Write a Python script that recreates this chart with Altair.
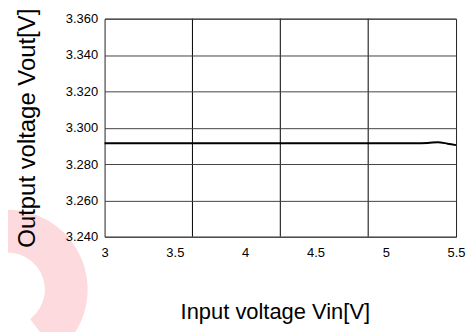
import altair as alt
import pandas as pd

# ---- data ----
vin = [3.0, 3.5, 4.0, 4.5, 5.0, 5.2, 5.3, 5.37, 5.44, 5.5]
vout = [3.2915, 3.2915, 3.2915, 3.2915, 3.2915, 3.2915, 3.2916, 3.2920, 3.2912, 3.2904]
x_ticks = [3.0, 3.5, 4.0, 4.5, 5.0, 5.5]
y_ticks = [3.240, 3.260, 3.280, 3.300, 3.320, 3.340, 3.360]
x_grid = [3.625, 4.25, 4.875]

W, H = 353, 219
FONT = "Liberation Sans"

df = pd.DataFrame({"vin": vin, "vout": vout})
grid_df = pd.DataFrame({"g": x_grid})

xscale = alt.Scale(domain=[3, 5.5], nice=False, zero=False)
yscale = alt.Scale(domain=[3.24, 3.36], nice=False, zero=False)

x_axis = alt.Axis(values=x_ticks, format="~g", grid=False, ticks=False, domain=False,
                  labelFontSize=13, labelPadding=10, labelFlush=False,
                  title="Input voltage Vin[V]", titleFontSize=22, titleFontWeight="normal",
                  titleX=171, titleY=82, titleBaseline="alphabetic", zindex=1)
y_axis = alt.Axis(values=y_ticks, format=".3f", grid=True, gridColor="#444", gridWidth=1,
                  ticks=False, domain=False, labelFontSize=13, labelPadding=7,
                  title="Output voltage Vout[V]", titleFontSize=24, titleFontWeight="normal",
                  titleX=-70, titleBaseline="alphabetic", zindex=1)

# decorative watermark (pale pink ring segment in the lower-left corner)
wm = alt.Chart(pd.DataFrame({"a": [0]})).mark_arc(color="#fcdadd").encode(
    x=alt.value(-97), y=alt.value(272),
    radius=alt.value(80), radius2=alt.value(37),
    theta=alt.value(4.0), theta2=alt.value(8.78),
)

vgrid = alt.Chart(grid_df).mark_rule(color="black", strokeWidth=1).encode(
    x=alt.X("g:Q", scale=xscale, axis=x_axis)
)

line = alt.Chart(df).mark_line(color="black", strokeWidth=2, interpolate="monotone").encode(
    x=alt.X("vin:Q", scale=xscale, axis=x_axis),
    y=alt.Y("vout:Q", scale=yscale, axis=y_axis),
)

chart = alt.layer(wm, vgrid, line).properties(
    width=W, height=H,
    autosize=alt.AutoSizeParams(type="none"),
    padding={"left": 97, "top": 10, "right": 10, "bottom": 95},
    background="white",
).configure_view(
    stroke="#222", strokeWidth=1
).configure_axis(
    labelFont=FONT, titleFont=FONT, labelColor="black", titleColor="black"
)

chart.save("out.html", embed_options={"renderer": "svg", "actions": False})
